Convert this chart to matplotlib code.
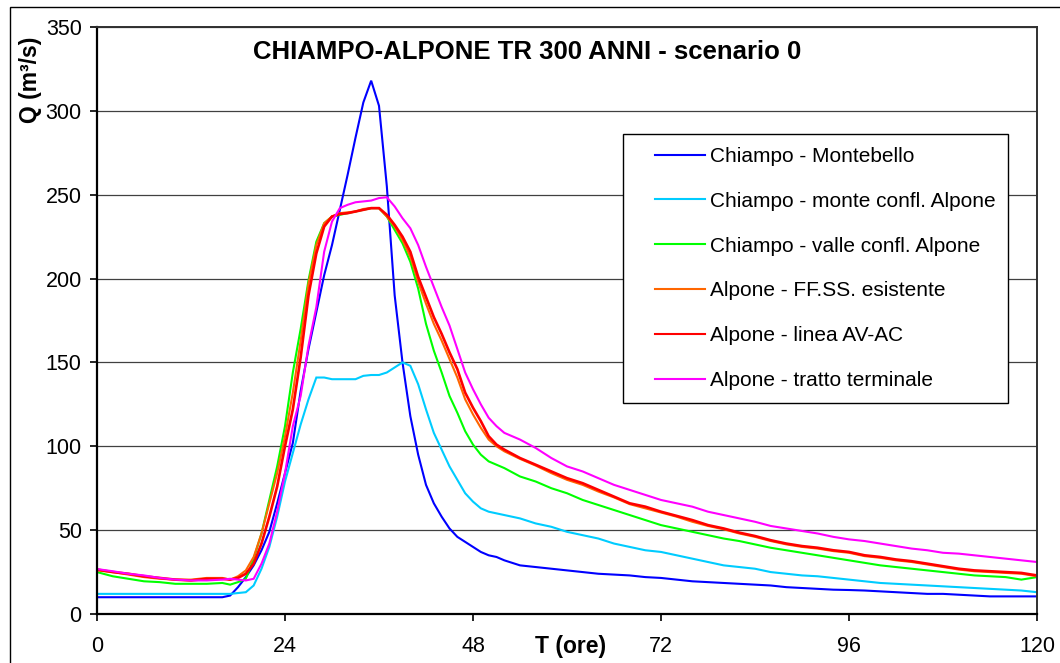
import numpy as np
import matplotlib

matplotlib.use("Agg")
import matplotlib.pyplot as plt
from matplotlib.patches import Rectangle
from matplotlib.legend_handler import HandlerLine2D
from matplotlib.lines import Line2D

plt.rcParams["font.family"] = ["Liberation Sans", "DejaVu Sans"]

# time axis (hours)
ore = (
    list(range(0, 17, 2))
    + list(range(17, 53))
    + list(range(54, 121, 2))
)

# discharge hydrographs (m3/s)
q_montebello = [
    10, 10, 10, 10, 10, 10, 10, 10, 10,
    11, 16, 22, 29, 38, 49, 66, 84, 102, 133, 158, 180, 202, 220, 241, 262,
    284, 305, 318, 303, 255, 190, 150, 118, 95, 77, 66, 58, 51, 46, 43, 40,
    37, 35, 34, 32,
    29, 28, 27, 26, 25, 24, 23.5, 23, 22, 21.5, 20.5, 19.5, 19, 18.5, 18,
    17.5, 17, 16, 15.5, 15, 14.5, 14.3, 14, 13.5, 13, 12.5, 12, 12, 11.5, 11,
    10.5, 10.5, 10.5, 10.5,
]
q_monte_confl = [
    12, 12, 12, 12, 12, 12, 12, 12, 12,
    12, 12.5, 13, 17, 27, 40, 58, 79, 96, 113, 128, 141, 141, 140, 140, 140,
    140, 142, 142.5, 142.5, 144, 147, 150, 148, 137, 122, 108, 98, 88, 80, 72,
    67, 63, 61, 60, 59,
    57, 54, 52, 49, 47, 45, 42, 40, 38, 37, 35, 33, 31, 29, 28, 27, 25, 24,
    23, 22.5, 21.5, 20.5, 19.5, 18.5, 18, 17.5, 17, 16.5, 16, 15.5, 15, 14.5,
    14, 13,
]
q_valle_confl = [
    25, 22.5, 21, 19.5, 19, 18, 18, 18, 18.5,
    17.5, 19, 21, 33, 48, 68, 88, 112, 144, 170, 199, 222, 233, 237, 238, 239,
    240, 241, 242, 242, 237, 229, 221, 210, 194, 173, 157, 144, 130, 120, 109,
    101, 95, 91, 89, 87,
    82, 79, 75, 72, 68, 65, 62, 59, 56, 53, 51, 49, 47, 45, 43.5, 41.5, 39.5,
    38, 36.5, 35, 33.5, 32, 30.5, 29, 28, 27, 26, 25, 24, 23, 22.5, 22, 20.5,
    22,
]
q_ffss = [
    26, 25, 23.5, 22, 21, 20.5, 20.5, 21.5, 21.5,
    20.5, 22.5, 26, 34, 48, 66, 84, 106, 132, 163, 197, 220, 233, 237, 239,
    239.5, 240, 241.5, 242, 242, 237, 231, 223, 213, 198, 185, 173, 163, 152,
    141, 128, 119, 111, 104, 100, 97,
    92.5, 88.5, 84, 80, 77, 73, 69.5, 65.5, 63, 60.5, 58, 55, 52.5, 50.5, 48,
    46, 43.5, 41.5, 40, 39, 37.5, 36.5, 34.5, 33.5, 32, 31, 29.5, 28, 26.5,
    25.5, 25, 24.5, 24, 22.5,
]
q_avac = [
    26.5, 25, 24, 22.5, 21.5, 20.5, 20, 21, 21,
    20.5, 21.5, 24, 30, 42, 58, 76, 100, 122, 153, 190, 215, 231, 237, 238.5,
    239, 240, 241, 242, 242, 238, 232, 225, 216, 201, 189, 177, 167, 156, 146,
    132, 123, 115, 106, 101, 98,
    93, 89, 85, 81, 78, 74, 70, 66, 64, 61, 58.5, 56, 53, 51, 48.5, 46.5, 44,
    42, 40.5, 39.5, 38, 37, 35, 34, 32.5, 31.5, 30, 28.5, 27, 26, 25.5, 25,
    24.5, 23,
]
q_terminale = [
    26.8, 25.5, 24, 23, 21.5, 20.5, 20, 20, 20.5,
    21, 20.5, 20, 21, 30, 42, 61, 84, 112, 130, 160, 183, 216, 234, 242, 244,
    245.5, 246, 246.5, 248, 248.5, 243, 236, 230, 220, 207, 195, 183, 172,
    158, 144, 134, 125, 117, 112, 108,
    104, 99, 93, 88, 85, 81, 77, 74, 71, 68, 66, 64, 61, 59, 57, 55, 52.5, 51,
    49.5, 48, 46, 44.5, 43.5, 42, 40.5, 39, 38, 36.5, 36, 35, 34, 33, 32, 31,
]

serie = [
    ("Chiampo - Montebello", q_montebello, "#0000ff", 1.5),
    ("Chiampo - monte confl. Alpone", q_monte_confl, "#00ccff", 1.5),
    ("Chiampo - valle confl. Alpone", q_valle_confl, "#00ff00", 1.5),
    ("Alpone - FF.SS. esistente", q_ffss, "#ff6600", 1.5),
    ("Alpone - linea AV-AC", q_avac, "#ff0000", 1.9),
    ("Alpone - tratto terminale", q_terminale, "#ff00ff", 1.5),
]

W, H = 1060, 663
fig = plt.figure(figsize=(W / 100, H / 100), dpi=100)
ax = fig.add_axes([97 / W, 1 - 614 / H, (1037 - 97) / W, (614 - 27) / H])

# outer chart frame
fig.patches.append(
    Rectangle((10 / W, -0.5), 2, 1 - 7 / H + 0.5, transform=fig.transFigure,
              fill=False, edgecolor="black", lw=1.0)
)

for nome, q, col, lw in serie:
    ax.plot(ore, q, color=col, lw=lw, label=nome, solid_joinstyle="miter")

ax.set_xlim(0, 120)
ax.set_ylim(0, 350)
ax.set_xticks(np.arange(0, 121, 24))
ax.set_yticks(np.arange(0, 351, 50))
ax.yaxis.grid(True, color="#404040", lw=0.9)
ax.set_axisbelow(True)
ax.tick_params(axis="both", direction="out", length=5, width=1.2,
               labelsize=15.5, colors="black")
ax.tick_params(axis="x", pad=11)
ax.tick_params(axis="y", pad=6)
for s in ["left", "bottom"]:
    ax.spines[s].set_linewidth(1.6)
    ax.spines[s].set_color("black")
for s in ["top", "right"]:
    ax.spines[s].set_linewidth(1.4)
    ax.spines[s].set_color("#303030")

fig.text(527 / W, 1 - 52 / H, "CHIAMPO-ALPONE TR 300 ANNI - scenario 0",
         ha="center", va="center", fontsize=18.5, fontweight="bold")
fig.text(31 / W, 1 - 80 / H, "Q (m³/s)", rotation=90, ha="center",
         va="center", fontsize=16.5, fontweight="bold")
fig.text(571 / W, 1 - 646 / H, "T (ore)", ha="center", va="center",
         fontsize=16.5, fontweight="bold")

leg = ax.legend(loc="upper left", bbox_to_anchor=(623 / W, 1 - 134 / H),
                bbox_transform=fig.transFigure, fontsize=15, frameon=True,
                fancybox=False, framealpha=1, edgecolor="black",
                handlelength=3.3, handletextpad=0.25, labelspacing=1.24,
                borderpad=0.62, borderaxespad=0,
                handler_map={Line2D: HandlerLine2D(xpad=0.9)})
leg.get_frame().set_linewidth(1.0)
for h in leg.get_lines():
    h.set_linewidth(1.5)

fig.savefig("out.png", dpi=100)
